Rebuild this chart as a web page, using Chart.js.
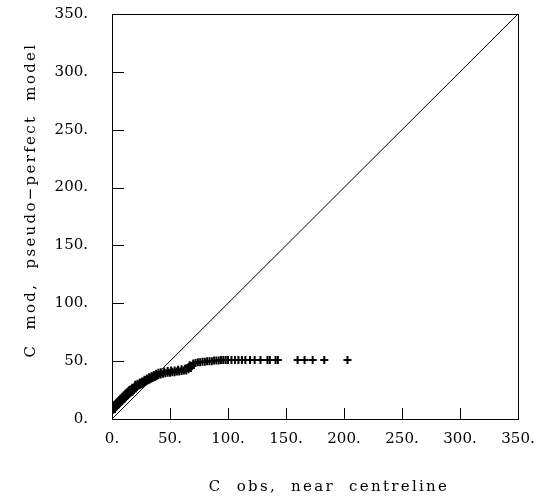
<!DOCTYPE html>
<html>
<head>
<meta charset="utf-8">
<script src="https://cdn.jsdelivr.net/npm/chart.js@4"></script>
<style>
  html, body { margin: 0; padding: 0; background: #fff; }
  #wrap { width: 545px; height: 502px; }
</style>
</head>
<body>
<div id="wrap"><canvas id="chart" width="545" height="502"></canvas></div>
<script>
// C observed near the centreline (x) against C from the pseudo-perfect model (y)
const obsC = [
    0, 0, 1, 1, 2, 2, 3, 3, 4, 4, 5, 5, 6, 6, 7, 7, 8, 8, 9, 9,
    10, 10, 11, 11, 12, 12, 13, 13, 14, 14, 15, 15, 16, 16, 17, 17, 18, 18, 19, 19,
    20, 21, 22, 23, 24, 25, 26, 27, 28, 29, 30, 31, 32, 33, 34, 35, 36, 37, 38, 39, 40,
    20, 22, 24, 26, 28, 30, 32, 34, 36, 38, 40,
    42, 44, 46, 48, 50, 52, 54, 56, 58, 60, 62, 64, 66, 68, 69, 70,
    42, 45, 48, 51, 54, 57, 60, 63, 66, 67,
    72, 74, 76, 78, 80, 82, 84, 86, 88, 90, 92, 94, 96, 98, 100,
    103, 106, 109, 112, 115, 119, 123, 128, 134, 136, 141, 143,
    160, 166, 173, 183, 203
];
const modC = [
    6, 9, 8, 11, 9, 12, 10, 13, 11, 14, 12, 15, 13, 16, 14, 17, 15, 18, 16, 19,
    17, 20, 18, 21, 19, 22, 20, 23, 21, 24, 22, 25, 23, 25.5, 23.5, 26, 24, 26.5, 25, 27,
    27.5, 28, 28.5, 29, 29.5, 30, 30.5, 31, 32, 32.5, 33, 33.5, 34, 34.5, 35, 35.5, 36, 36.5, 37, 37.5, 38,
    29.5, 30.5, 31.5, 32.5, 34, 35, 36, 37, 38, 39, 40,
    38.5, 39, 39.5, 40, 40, 40.5, 40.5, 41, 41, 41.5, 42, 42, 43, 44, 46, 48,
    40.5, 41, 41.5, 42, 42, 42.5, 43, 43.5, 45, 46.5,
    48.5, 49, 49, 49.5, 49.5, 50, 50, 50, 50.5, 50.5, 50.5, 51, 51, 51, 51,
    51, 51, 51, 51, 51, 51, 51, 51, 51, 51, 51, 51,
    51, 51, 51, 51, 51
];
// the one-to-one line
const lineX = [0, 350];
const lineY = [0, 350];
const tickValues = [0, 50, 100, 150, 200, 250, 300, 350];

const xTitle = "C  obs,  near  centreline";
const yTitle = "C  mod,  pseudo\u2212perfect  model";

const points = obsC.map((x, i) => ({ x: x, y: modC[i] }));
const diagonal = lineX.map((x, i) => ({ x: x, y: lineY[i] }));

const FONT = "'DejaVu Serif', serif";

// frame, inward ticks and axis titles drawn on top of the scales
const framePlugin = {
    id: "frame",
    afterDraw(chart) {
        const ctx = chart.ctx;
        const a = chart.chartArea;
        const xs = chart.scales.x;
        const ys = chart.scales.y;
        ctx.save();
        ctx.strokeStyle = "#000";
        ctx.lineWidth = 1;
        ctx.strokeRect(Math.round(a.left) + 0.5, Math.round(a.top) + 0.5,
            Math.round(a.right - a.left), Math.round(a.bottom - a.top));
        ctx.beginPath();
        tickValues.forEach(v => {
            const px = Math.round(xs.getPixelForValue(v)) + 0.5;
            ctx.moveTo(px, a.bottom);
            ctx.lineTo(px, a.bottom - 11);
            const py = Math.round(ys.getPixelForValue(v)) + 0.5;
            ctx.moveTo(a.left, py);
            ctx.lineTo(a.left + 12, py);
        });
        ctx.stroke();

        ctx.fillStyle = "#000";
        ctx.font = "15px " + FONT;
        ctx.letterSpacing = "2.3px";
        ctx.textAlign = "center";
        ctx.textBaseline = "alphabetic";
        ctx.fillText(xTitle, 329, 491);
        ctx.translate(35, 200);
        ctx.rotate(-Math.PI / 2);
        ctx.fillText(yTitle, 0, 0);
        ctx.restore();
    }
};

const axisCommon = {
    type: "linear",
    min: 0,
    max: 350,
    grid: { display: false, drawTicks: false },
    border: { display: true, color: "#000", width: 1 },
    ticks: {
        stepSize: 50,
        color: "#000",
        font: { family: FONT, size: 15 },
        callback: v => v + "."
    }
};

new Chart(document.getElementById("chart"), {
    type: "scatter",
    data: {
        datasets: [
            {
                data: points,
                pointStyle: "cross",
                pointRadius: 4,
                pointBorderWidth: 2,
                borderColor: "#000",
                backgroundColor: "#000"
            },
            {
                type: "line",
                data: diagonal,
                borderColor: "#000",
                borderWidth: 1,
                pointRadius: 0,
                fill: false
            }
        ]
    },
    options: {
        responsive: false,
        animation: false,
        events: [],
        layout: { padding: { left: 0, right: 27, top: 14, bottom: 0 } },
        plugins: { legend: { display: false }, tooltip: { enabled: false } },
        scales: {
            x: Object.assign({}, axisCommon, {
                position: "bottom",
                ticks: Object.assign({}, axisCommon.ticks, { padding: 11, maxRotation: 0 }),
                afterFit: s => { s.height = 83; s.paddingLeft = 0; s.paddingRight = 0; }
            }),
            y: Object.assign({}, axisCommon, {
                position: "left",
                ticks: Object.assign({}, axisCommon.ticks, { padding: 24 }),
                afterFit: s => { s.width = 112; s.paddingTop = 0; s.paddingBottom = 0; }
            })
        }
    },
    plugins: [framePlugin]
});
</script>
</body>
</html>
